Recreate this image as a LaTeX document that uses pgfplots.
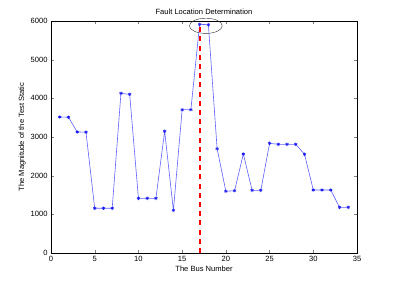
\documentclass[border=0pt]{standalone}
\usepackage{pgfplots}
\pgfplotsset{compat=1.18}
\usepackage{fontspec}
\setmainfont{Liberation Sans}
\definecolor{fred}{RGB}{255,0,0}
\definecolor{lblue}{RGB}{95,95,255}
\definecolor{mblue}{RGB}{30,30,240}
\begin{document}
\begin{tikzpicture}
\begin{axis}[
  scale only axis, width=306bp, height=232bp,
  xmin=0, xmax=35, ymin=0, ymax=6000,
  xtick={0,5,...,35}, ytick={0,1000,...,6000},
  tick align=inside, xtick pos=both, ytick pos=both,
  major tick length=3bp,
  /pgf/number format/1000 sep={},
  /pgf/number format/assume math mode=true,
  ticklabel style={font=\fontsize{7.6}{8}\selectfont},
  label style={font=\fontsize{7.6}{8}\selectfont},
  title style={font=\fontsize{7.6}{8}\selectfont, yshift=-3bp},
  title={Fault Location Determination},
  xlabel={The Bus Number}, ylabel={The Magnitude of the Test Static},
  xlabel style={yshift=3bp}, ylabel style={yshift=-2bp},
  clip=false,
  unbounded coords=jump,
  axis line style={line width=0.5pt},
]
\addplot[draw=lblue, line width=0.6pt, mark=asterisk, mark size=1.7pt, mark options={draw=mblue, line width=0.7pt}] coordinates {
(1,3517) (2,3510) (3,3130) (4,3125) (5,1156) (6,1156) (7,1156) (8,4129) (9,4103)
(10,1414) (11,1414) (12,1414) (13,3147) (14,1103) (15,3706) (16,3706) (17,5913) (18,5905)
(19,2698) (20,1595) (21,1612) (22,2560) (23,1621) (24,1621) (25,2836) (26,2810) (27,2810)
(28,2810) (29,2552) (30,1629) (31,1629) (32,1629) (33,1181) (34,1181)
};
\addplot[draw=fred, no marks, line width=1.8pt] coordinates {
(17,0) (17,130) (17,nan) (17,238) (17,368) (17,nan) (17,476) (17,606) (17,nan)
(17,714) (17,844) (17,nan) (17,952) (17,1082) (17,nan) (17,1190) (17,1320) (17,nan)
(17,1428) (17,1558) (17,nan) (17,1666) (17,1796) (17,nan) (17,1904) (17,2034) (17,nan)
(17,2142) (17,2272) (17,nan) (17,2380) (17,2510) (17,nan) (17,2618) (17,2748) (17,nan)
(17,2856) (17,2986) (17,nan) (17,3094) (17,3224) (17,nan) (17,3332) (17,3462) (17,nan)
(17,3570) (17,3700) (17,nan) (17,3808) (17,3938) (17,nan) (17,4046) (17,4176) (17,nan)
(17,4284) (17,4414) (17,nan) (17,4522) (17,4652) (17,nan) (17,4760) (17,4890) (17,nan)
(17,4998) (17,5128) (17,nan) (17,5236) (17,5366) (17,nan) (17,5474) (17,5604) (17,nan)
(17,5712) (17,5842)
};
\draw[black!80, line width=0.4pt] (axis cs:17.71,5875) ellipse [x radius=16.4bp, y radius=7.6bp];
\end{axis}
\pgfresetboundingbox
\path[use as bounding box] ([xshift=-51bp,yshift=-32bp]current axis.south west) rectangle ([xshift=38bp,yshift=21bp]current axis.north east);
\end{tikzpicture}
\end{document}
